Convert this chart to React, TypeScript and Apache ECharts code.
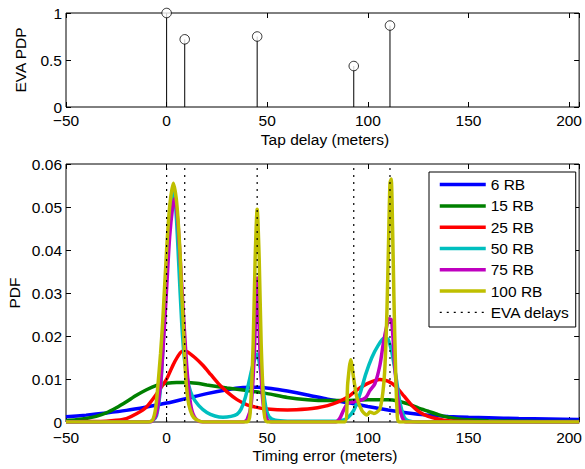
import React, { useEffect, useRef } from "react";
import * as echarts from "echarts";

// ---- data ----
const tapDelays = [0, 9, 45, 93, 111];
const tapPower = [1, 0.72, 0.75, 0.436, 0.867];

const seriesNames = ["6 RB", "15 RB", "25 RB", "50 RB", "75 RB", "100 RB"];
const seriesColors = ["#0000ff", "#008000", "#ff0000", "#00bfbf", "#bf00bf", "#bfbf00"];

const rb6: [number, number][] = [
  [-50, 0.0012], [-40, 0.0016], [-30, 0.0021], [-20, 0.0027], [-10, 0.0035], [0, 0.0044],
  [10, 0.0055], [20, 0.0066], [30, 0.0075], [38, 0.008], [45, 0.0081], [52, 0.0078],
  [60, 0.0072], [70, 0.0063], [80, 0.0053], [90, 0.0045], [100, 0.0036], [110, 0.0028],
  [120, 0.0021], [130, 0.0016], [140, 0.0013], [150, 0.0011], [160, 0.001], [175, 0.0008],
  [190, 0.0007], [205, 0.0006],
];
const rb15: [number, number][] = [
  [-50, 0.0003], [-45, 0.0005], [-40, 0.0008], [-35, 0.0013], [-30, 0.0021], [-25, 0.0033],
  [-20, 0.0047], [-15, 0.0062], [-10, 0.0075], [-5, 0.0085], [0, 0.009], [5, 0.0092],
  [10, 0.0092], [15, 0.009], [20, 0.0086], [30, 0.0079], [40, 0.0073], [50, 0.0066],
  [60, 0.0057], [70, 0.0052], [80, 0.005], [90, 0.005], [100, 0.0052], [110, 0.0052],
  [115, 0.0049], [120, 0.0042], [125, 0.0033], [130, 0.0025], [135, 0.0017], [140, 0.0011],
  [145, 0.0007], [150, 0.0005], [160, 0.0003], [175, 0.0002], [190, 0.0001], [205, 0.0001],
];
const rb25: [number, number][] = [
  [-50, 0], [-40, 0.0001], [-30, 0.0002], [-25, 0.0004], [-20, 0.0008], [-15, 0.0019],
  [-10, 0.0035], [-5, 0.0065], [0, 0.01], [4, 0.014], [8, 0.0165], [10, 0.0164],
  [14, 0.015], [18, 0.0132], [22, 0.011], [26, 0.0088], [30, 0.007], [35, 0.0052],
  [40, 0.004], [45, 0.0034], [50, 0.003], [60, 0.0028], [70, 0.003], [75, 0.0033],
  [80, 0.0038], [85, 0.0046], [90, 0.0058], [95, 0.0076], [100, 0.009], [106, 0.0099],
  [110, 0.0095], [114, 0.0082], [118, 0.006], [122, 0.0038], [126, 0.0022], [130, 0.0013],
  [135, 0.0007], [140, 0.0003], [150, 0.0001], [160, 0], [205, 0],
];
const rb50: [number, number][] = [
  [-50, 0], [-10, 0], [-7, 0.0003], [-5, 0.0015], [-3, 0.008], [-1.5, 0.02], [0, 0.035],
  [1.5, 0.048], [3, 0.054], [4.5, 0.05], [6, 0.037], [7.5, 0.023], [9, 0.014], [11, 0.0085],
  [13, 0.0058], [16, 0.0038], [20, 0.0022], [24, 0.0014], [28, 0.0011], [32, 0.0013],
  [35, 0.0018], [37, 0.003], [39, 0.0055], [41, 0.0095], [43, 0.0135], [45, 0.0158],
  [46.5, 0.0125], [48, 0.0075], [49.5, 0.003], [51, 0.0012], [54, 0.0004], [60, 0.0002],
  [84, 0.0002], [88, 0.0005], [90, 0.001], [93, 0.0027], [96, 0.0064], [99, 0.0112],
  [102, 0.015], [105, 0.0177], [108, 0.0195], [110, 0.0193], [112, 0.016], [114, 0.0105],
  [116, 0.0045], [118, 0.0012], [120, 0.0003], [125, 0], [205, 0],
];
const rb75: [number, number][] = [
  [-50, 0], [-9, 0], [-7, 0.0003], [-5, 0.002], [-3, 0.009], [-1.5, 0.019], [0, 0.031],
  [1.5, 0.043], [3, 0.05], [4, 0.052], [5.5, 0.047], [7, 0.036], [8.5, 0.024], [10, 0.013],
  [11.5, 0.0055], [13, 0.002], [15, 0.0005], [18, 0], [38, 0], [40, 0.0006], [42, 0.004],
  [43.5, 0.015], [45, 0.0335], [46.5, 0.015], [48, 0.004], [50, 0.0005], [52, 0], [84, 0],
  [86, 0.0008], [88, 0.0028], [90, 0.0043], [93, 0.0047], [96, 0.005], [99, 0.0057],
  [101, 0.0073], [103.5, 0.0089], [106, 0.0132], [107.7, 0.0183], [109.3, 0.0221],
  [110.5, 0.024], [111.8, 0.0237], [113.4, 0.0128], [115, 0.005], [117, 0.0012], [119, 0],
  [205, 0],
];
const rb100: [number, number][] = [
  [-50, 0], [-9, 0], [-7, 0.0004], [-5.5, 0.003], [-4.4, 0.0081], [-3, 0.016], [-1.9, 0.0237],
  [0, 0.04], [1.5, 0.05], [3.3, 0.0555], [5, 0.051], [6.6, 0.04], [7.5, 0.03], [8.2, 0.024],
  [9.3, 0.012], [10.5, 0.0055], [11.8, 0.0027], [13.5, 0.001], [15.8, 0.0003], [18, 0],
  [40, 0], [41.5, 0.002], [43, 0.018], [44, 0.038], [45, 0.0495], [46, 0.038], [47, 0.018],
  [48.5, 0.002], [50, 0], [88.5, 0], [90, 0.009], [91.5, 0.0145], [93, 0.01], [94.5, 0.0058],
  [97, 0.0027], [99.5, 0.0016], [101, 0.0023], [103, 0.002], [104.5, 0.0023], [106, 0.003],
  [107.5, 0.007], [108.5, 0.013], [109.5, 0.026], [110.3, 0.042], [111, 0.0555],
  [111.6, 0.0565], [112.3, 0.045], [113, 0.028], [113.8, 0.012], [114.5, 0.003], [115.5, 0],
  [205, 0],
];
const pdfSeries = [rb6, rb15, rb25, rb50, rb75, rb100];

const xTicksMin = -50;
const xTicksMax = 205;
const xInterval = 50;
const pdfMax = 0.06;
const pdfInterval = 0.01;

const FONT = "'Liberation Sans', Arial, Helvetica, sans-serif";
const FS = 15.5;
const LW = 3.5;

function fmtX(v: number) {
  if (Math.abs(v % xInterval) > 1e-9) return "";
  return v < 0 ? "\u2212" + Math.abs(v) : String(v);
}

export default function App() {
  const ref = useRef<HTMLDivElement>(null);

  useEffect(() => {
    if (!ref.current) return;
    const chart = echarts.init(ref.current, undefined, { renderer: "svg" });

    const tick = { show: true, inside: true, length: 5, lineStyle: { color: "#000", width: 1 } };
    const label = (margin: number, formatter: any, lineHeight?: number) => ({
      show: true,
      margin,
      formatter,
      color: "#000",
      fontSize: FS,
      fontFamily: FONT,
      ...(lineHeight ? { lineHeight } : {}),
    });
    const noLabel = { show: false };
    const noLine = { show: false, onZero: false };
    const noSplit = { show: false };

    const xBase = { type: "value", min: xTicksMin, max: xTicksMax, interval: xInterval, axisLine: noLine, splitLine: noSplit, axisTick: tick };

    const evaData: any[] = [];
    tapDelays.forEach((d) => {
      evaData.push([d, 0], [d, pdfMax], [d, "-"]);
    });

    const option: any = {
      animation: false,
      backgroundColor: "#fff",
      grid: [
        { left: 66, top: 13, width: 518, height: 94, show: true, borderColor: "#000", borderWidth: 1, backgroundColor: "transparent" },
        { left: 66, top: 164, width: 518, height: 258, show: true, borderColor: "#000", borderWidth: 1, backgroundColor: "transparent" },
      ],
      xAxis: [
        { ...xBase, gridIndex: 0, position: "bottom", axisLabel: label(5, fmtX) },
        { ...xBase, gridIndex: 0, position: "top", axisLabel: noLabel },
        { ...xBase, gridIndex: 1, position: "bottom", axisLabel: label(7, fmtX) },
        { ...xBase, gridIndex: 1, position: "top", axisLabel: noLabel },
      ],
      yAxis: [
        { type: "value", gridIndex: 0, position: "left", min: 0, max: 1, interval: 0.5, axisLine: noLine, splitLine: noSplit, axisTick: tick, axisLabel: label(4, (v: number) => String(v), 10) },
        { type: "value", gridIndex: 0, position: "right", min: 0, max: 1, interval: 0.5, axisLine: noLine, splitLine: noSplit, axisTick: tick, axisLabel: noLabel },
        { type: "value", gridIndex: 1, position: "left", min: 0, max: pdfMax, interval: pdfInterval, axisLine: noLine, splitLine: noSplit, axisTick: tick, axisLabel: label(4, (v: number) => String(+v.toFixed(2)), 10) },
        { type: "value", gridIndex: 1, position: "right", min: 0, max: pdfMax, interval: pdfInterval, axisLine: noLine, splitLine: noSplit, axisTick: tick, axisLabel: noLabel },
      ],
      legend: {
        orient: "vertical",
        left: 429,
        top: 172,
        data: [
          ...seriesNames.map((n) => ({ name: n, lineStyle: { width: LW } })),
          { name: "EVA delays", lineStyle: { width: 1.2 } },
        ],
        itemWidth: 46,
        itemHeight: 14,
        itemGap: 5.3,
        padding: [4.6, 6, 6.6, 9],
        borderColor: "#000",
        borderWidth: 1,
        backgroundColor: "#fff",
        itemStyle: { opacity: 0 },
        textStyle: { color: "#000", fontSize: FS, fontFamily: FONT },
      },
      graphic: [
        { type: "text", x: 20.5, y: 60, rotation: Math.PI / 2, style: { text: "EVA PDP", fill: "#000", fontSize: FS, fontFamily: FONT, align: "center", verticalAlign: "middle", textAlign: "center", textVerticalAlign: "middle" } },
        { type: "text", x: 325, y: 139, style: { text: "Tap delay (meters)", fill: "#000", fontSize: FS, fontFamily: FONT, align: "center", verticalAlign: "middle", textAlign: "center", textVerticalAlign: "middle" } },
        { type: "text", x: 14, y: 293, rotation: Math.PI / 2, style: { text: "PDF", fill: "#000", fontSize: FS, fontFamily: FONT, align: "center", verticalAlign: "middle", textAlign: "center", textVerticalAlign: "middle" } },
        { type: "text", x: 325, y: 455.5, style: { text: "Timing error (meters)", fill: "#000", fontSize: FS, fontFamily: FONT, align: "center", verticalAlign: "middle", textAlign: "center", textVerticalAlign: "middle" } },
      ],
      series: [
        {
          type: "custom",
          name: "stems",
          xAxisIndex: 0,
          yAxisIndex: 0,
          data: tapDelays.map((d, i) => [d, tapPower[i]]),
          renderItem: (params: any, api: any) => {
            const p0 = api.coord([api.value(0), 0]);
            const p1 = api.coord([api.value(0), api.value(1)]);
            return {
              type: "line",
              shape: { x1: p0[0], y1: p0[1], x2: p1[0], y2: p1[1] },
              style: { stroke: "#000", lineWidth: 1 },
            };
          },
        },
        {
          type: "scatter",
          name: "taps",
          xAxisIndex: 0,
          yAxisIndex: 0,
          clip: false,
          symbol: "circle",
          symbolSize: 9.5,
          itemStyle: { color: "#fff", borderColor: "#000", borderWidth: 1 },
          data: tapDelays.map((d, i) => [d, tapPower[i]]),
          z: 3,
        },
        ...pdfSeries.map((data, i) => ({
          type: "line",
          name: seriesNames[i],
          xAxisIndex: 2,
          yAxisIndex: 2,
          data,
          symbol: "none",
          showSymbol: false,
          smooth: 0.25,
          color: seriesColors[i],
          lineStyle: { color: seriesColors[i], width: LW },
          z: 2 + i * 0.01,
        })),
        {
          type: "line",
          name: "EVA delays",
          xAxisIndex: 2,
          yAxisIndex: 2,
          data: evaData,
          symbol: "none",
          showSymbol: false,
          connectNulls: false,
          color: "#000",
          lineStyle: { color: "#000", width: 1.2, type: [2, 5] },
          z: 3,
        },
      ],
    };

    chart.setOption(option);
    return () => chart.dispose();
  }, []);

  return (
    <div
      ref={ref}
      style={{ position: "absolute", left: 0, top: 0, width: 585, height: 469 }}
    />
  );
}
